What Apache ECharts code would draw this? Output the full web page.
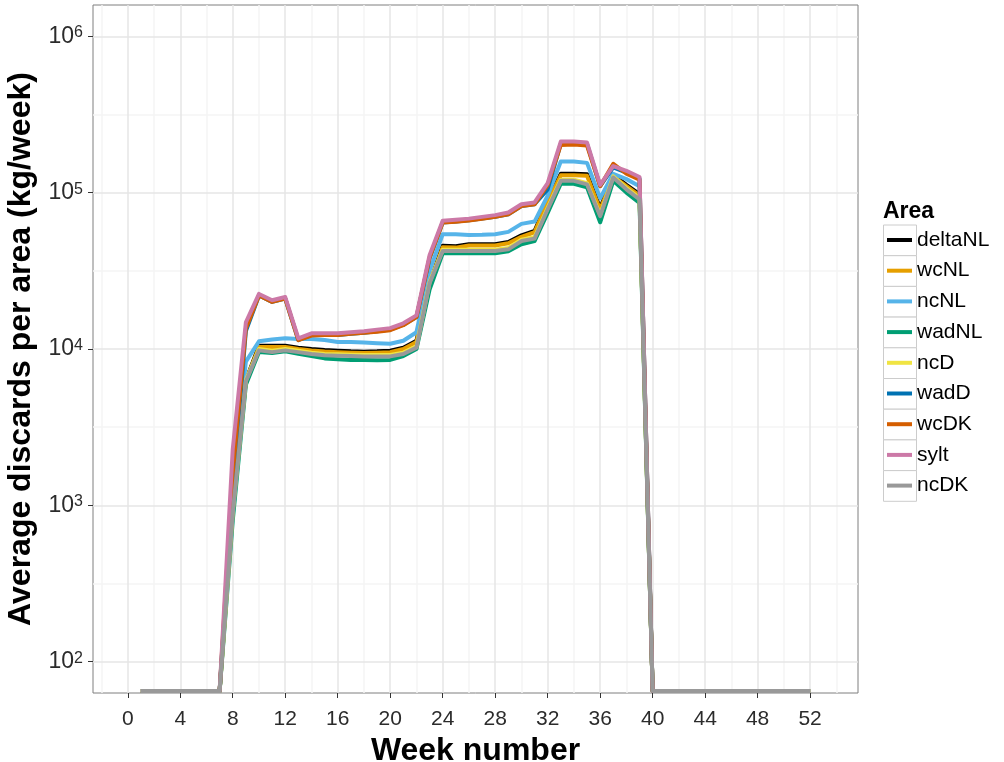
<!DOCTYPE html>
<html>
<head>
<meta charset="utf-8">
<title>Average discards per area</title>
<script src="https://cdn.jsdelivr.net/npm/echarts@6/dist/echarts.min.js"></script>
<style>
  html, body { margin: 0; padding: 0; background: #ffffff; }
  #chart { width: 1004px; height: 762px; }
</style>
</head>
<body>
<div id="chart"></div>
<script>
// Week numbers on the x axis
const weeks = [1, 2, 3, 4, 5, 6, 7, 8, 9, 10, 11, 12, 13, 14, 15, 16, 17, 18, 19, 20,
  21, 22, 23, 24, 25, 26, 27, 28, 29, 30, 31, 32, 33, 34, 35, 36, 37, 38, 39, 40,
  41, 42, 43, 44, 45, 46, 47, 48, 49, 50, 51, 52];

// Areas, in legend / drawing order, with their line colours
const areas = ['deltaNL', 'wcNL', 'ncNL', 'wadNL', 'ncD', 'wadD', 'wcDK', 'sylt', 'ncDK'];
const areaColors = ['#000000', '#E69F00', '#56B4E9', '#009E73', '#F0E442', '#0072B2', '#D55E00', '#CC79A7', '#999999'];

// Average discards per area (kg/week); weeks without discards sit on the axis floor
const deltaNL = [65, 65, 65, 65, 65, 65, 65,
  1000, 6300, 10500, 10500, 10500, 10200, 10000, 9850, 9750, 9660, 9620, 9660, 9750, 10200, 11300,
  26300, 45700, 45400, 46800, 46800, 46800, 48400, 53300, 56900, 89100,
  132000, 132000, 131000, 79400, 130000, 112000, 97700,
  65, 65, 65, 65, 65, 65, 65, 65, 65, 65, 65, 65, 65];
const wcNL = [65, 65, 65, 65, 65, 65, 65,
  980, 6200, 10300, 10300, 10300, 10000, 9800, 9650, 9550, 9470, 9430, 9470, 9550, 10000, 11100,
  25800, 44800, 44500, 45900, 45900, 45900, 47400, 52200, 55800, 87300,
  129000, 129000, 128000, 77800, 127000, 110000, 95700,
  65, 65, 65, 65, 65, 65, 65, 65, 65, 65, 65, 65, 65];
const ncNL = [65, 65, 65, 65, 65, 65, 65,
  1260, 8300, 11200, 11500, 11700, 11600, 11600, 11400, 11100, 11100, 11000, 10900, 10800, 11300, 12800,
  31600, 54200, 54200, 53500, 53700, 54200, 56100, 63100, 65300, 95500,
  158000, 158000, 155000, 92300, 132000, 122000, 110000,
  65, 65, 65, 65, 65, 65, 65, 65, 65, 65, 65, 65, 65];
const wadNL = [65, 65, 65, 65, 65, 65, 65,
  800, 5900, 9550, 9440, 9660, 9330, 9020, 8710, 8610, 8510, 8510, 8470, 8510, 9020, 10000,
  24000, 40900, 40900, 40900, 40900, 40900, 42200, 46800, 49000, 74100,
  114000, 114000, 108000, 64600, 119000, 100000, 86100,
  65, 65, 65, 65, 65, 65, 65, 65, 65, 65, 65, 65, 65];
const ncD = [65, 65, 65, 65, 65, 65, 65,
  910, 6300, 10000, 9750, 10000, 9750, 9480, 9300, 9240, 9200, 9150, 9150, 9150, 9480, 10400,
  26800, 43200, 43200, 43200, 43200, 43200, 44300, 50000, 51800, 79900,
  121000, 121000, 115000, 72200, 127000, 107000, 92400,
  65, 65, 65, 65, 65, 65, 65, 65, 65, 65, 65, 65, 65];
const wadD = [65, 65, 65, 65, 65, 65, 65,
  1300, 13000, 22000, 20000, 21000, 11400, 12300, 12300, 12300, 12500, 12700, 13000, 13300, 14300, 16000,
  38000, 64500, 65300, 66500, 68200, 70000, 72800, 82000, 84300, 105000,
  206000, 207000, 204000, 110000, 145000, 134000, 123000,
  65, 65, 65, 65, 65, 65, 65, 65, 65, 65, 65, 65, 65];
const wcDK = [65, 65, 65, 65, 65, 65, 65,
  1600, 13500, 22000, 20000, 21000, 11400, 12200, 12300, 12300, 12500, 12700, 12900, 13200, 14200, 16000,
  38500, 64300, 65200, 66400, 68000, 70000, 72700, 82000, 84200, 112000,
  202000, 203000, 200000, 110000, 153000, 132000, 121000,
  65, 65, 65, 65, 65, 65, 65, 65, 65, 65, 65, 65, 65];
const sylt = [65, 65, 65, 65, 65, 65, 65,
  2290, 14800, 22500, 20500, 21500, 11700, 12600, 12600, 12600, 12800, 13000, 13300, 13600, 14600, 16400,
  39800, 66100, 67000, 68200, 70000, 71800, 74600, 84300, 86500, 115000,
  212000, 212000, 209000, 112000, 148000, 138000, 126000,
  65, 65, 65, 65, 65, 65, 65, 65, 65, 65, 65, 65, 65];
const ncDK = [65, 65, 65, 65, 65, 65, 65,
  890, 6200, 9800, 9550, 9800, 9550, 9290, 9120, 9060, 9020, 8970, 8970, 8970, 9290, 10200,
  26300, 42400, 42400, 42400, 42400, 42400, 43400, 49000, 50800, 78300,
  119000, 119000, 113000, 70800, 125000, 105000, 90600,
  65, 65, 65, 65, 65, 65, 65, 65, 65, 65, 65, 65, 65];

const areaValues = [deltaNL, wcNL, ncNL, wadNL, ncD, wadD, wcDK, sylt, ncDK];

// Axis breaks
const weekTicks = [0, 4, 8, 12, 16, 20, 24, 28, 32, 36, 40, 44, 48, 52];
const weekMinorTicks = [-2, 2, 6, 10, 14, 18, 22, 26, 30, 34, 38, 42, 46, 50, 54];
const discardTicks = [1e2, 1e3, 1e4, 1e5, 1e6];
const discardMinorTicks = [316.228, 3162.28, 31622.8, 316228];

// Axis limits
const weekMin = -2.65, weekMax = 55.65;
const discardMin = 63.0957, discardMax = 1584893;

const FONT = '"Liberation Sans", Arial, Helvetica, sans-serif';
const MAJOR_GRID = '#e6e6e6';
const MINOR_GRID = '#f5f5f5';
const TICK_TEXT = '#2b2b2b';

const chart = echarts.init(document.getElementById('chart'), null, { renderer: 'canvas' });

const series = areas.map((name, i) => ({
  name: name,
  type: 'line',
  xAxisIndex: 0,
  yAxisIndex: 0,
  data: weeks.map((w, j) => [w, areaValues[i][j]]),
  showSymbol: false,
  symbol: 'none',
  color: areaColors[i],
  lineStyle: { color: areaColors[i], width: 4, join: 'round', cap: 'butt' },
  emphasis: { disabled: true },
  z: 3
}));

// Legend key boxes
const keyTop = 225, keyStep = 30.7;
const keyBoxes = areas.map((name, i) => ({
  type: 'rect',
  silent: true,
  z: 1,
  shape: { x: 883.5, y: keyTop + i * keyStep, width: 33, height: keyStep },
  style: { fill: '#ffffff', stroke: '#cccccc', lineWidth: 1 }
}));

const option = {
  animation: false,
  backgroundColor: '#ffffff',
  textStyle: { fontFamily: FONT },
  title: {
    text: 'Area',
    left: 883,
    top: 199,
    padding: 0,
    textStyle: { fontFamily: FONT, fontSize: 23, fontWeight: 'bold', color: '#000000', lineHeight: 26 }
  },
  legend: {
    orient: 'vertical',
    left: 887,
    top: keyTop,
    padding: 0,
    icon: 'rect',
    itemWidth: 25,
    itemHeight: 4,
    itemGap: 0.7,
    itemTextGap: 7,
    selectedMode: false,
    itemStyle: { borderWidth: 0 },
    textStyle: { fontFamily: FONT, fontSize: 21, lineHeight: 30, color: '#000000' },
    data: areas
  },
  graphic: keyBoxes,
  grid: {
    left: 93, right: 146, top: 5, bottom: 69,
    show: true,
    backgroundColor: '#ffffff',
    borderColor: '#7f7f7f',
    borderWidth: 1,
    containLabel: false,
    outerBoundsMode: 'none'
  },
  xAxis: [
    {
      type: 'value',
      min: weekMin,
      max: weekMax,
      name: 'Week number',
      nameLocation: 'middle',
      nameGap: 39,
      nameTextStyle: { fontFamily: FONT, fontSize: 32, fontWeight: 'bold', color: '#000000', lineHeight: 32 },
      axisLine: { show: false, onZero: false },
      axisTick: { show: true, length: 5, lineStyle: { color: '#333333', width: 1 }, customValues: weekTicks },
      axisLabel: { customValues: weekTicks, interval: 0, fontFamily: FONT, fontSize: 21, lineHeight: 22, color: TICK_TEXT, margin: 15 },
      splitLine: { show: true, lineStyle: { color: MAJOR_GRID, width: 1.5 } },
      z: 2
    },
    {
      type: 'value',
      min: weekMin,
      max: weekMax,
      axisLine: { show: false, onZero: false },
      axisTick: { show: false, customValues: weekMinorTicks },
      axisLabel: { show: false, customValues: weekMinorTicks },
      splitLine: { show: true, lineStyle: { color: MINOR_GRID, width: 1.5 } },
      z: 1
    }
  ],
  yAxis: [
    {
      type: 'log',
      logBase: 10,
      min: discardMin,
      max: discardMax,
      position: 'left',
      name: 'Average discards per area (kg/week)',
      nameLocation: 'middle',
      nameGap: 52,
      nameTextStyle: { fontFamily: FONT, fontSize: 32, fontWeight: 'bold', color: '#000000', lineHeight: 32 },
      axisLine: { show: false, onZero: false },
      axisTick: { show: true, length: 5, lineStyle: { color: '#333333', width: 1 }, customValues: discardTicks },
      axisLabel: {
        customValues: discardTicks,
        margin: 10,
        formatter: function (v) {
          return '{base|10}{sup|' + Math.round(Math.log10(v)) + '}';
        },
        rich: {
          base: { fontFamily: FONT, fontSize: 23, lineHeight: 23, color: TICK_TEXT, verticalAlign: 'bottom', padding: [4, 0, 0, 0] },
          sup: { fontFamily: FONT, fontSize: 16, lineHeight: 16, color: TICK_TEXT, verticalAlign: 'top' }
        }
      },
      splitLine: { show: true, lineStyle: { color: MAJOR_GRID, width: 1.5 } },
      z: 2
    },
    {
      type: 'log',
      logBase: 10,
      min: discardMin,
      max: discardMax,
      position: 'right',
      axisLine: { show: false, onZero: false },
      axisTick: { show: false, customValues: discardMinorTicks },
      axisLabel: { show: false, customValues: discardMinorTicks },
      splitLine: { show: true, lineStyle: { color: MINOR_GRID, width: 1.5 } },
      z: 1
    }
  ],
  series: series
};

chart.setOption(option);
</script>
</body>
</html>
